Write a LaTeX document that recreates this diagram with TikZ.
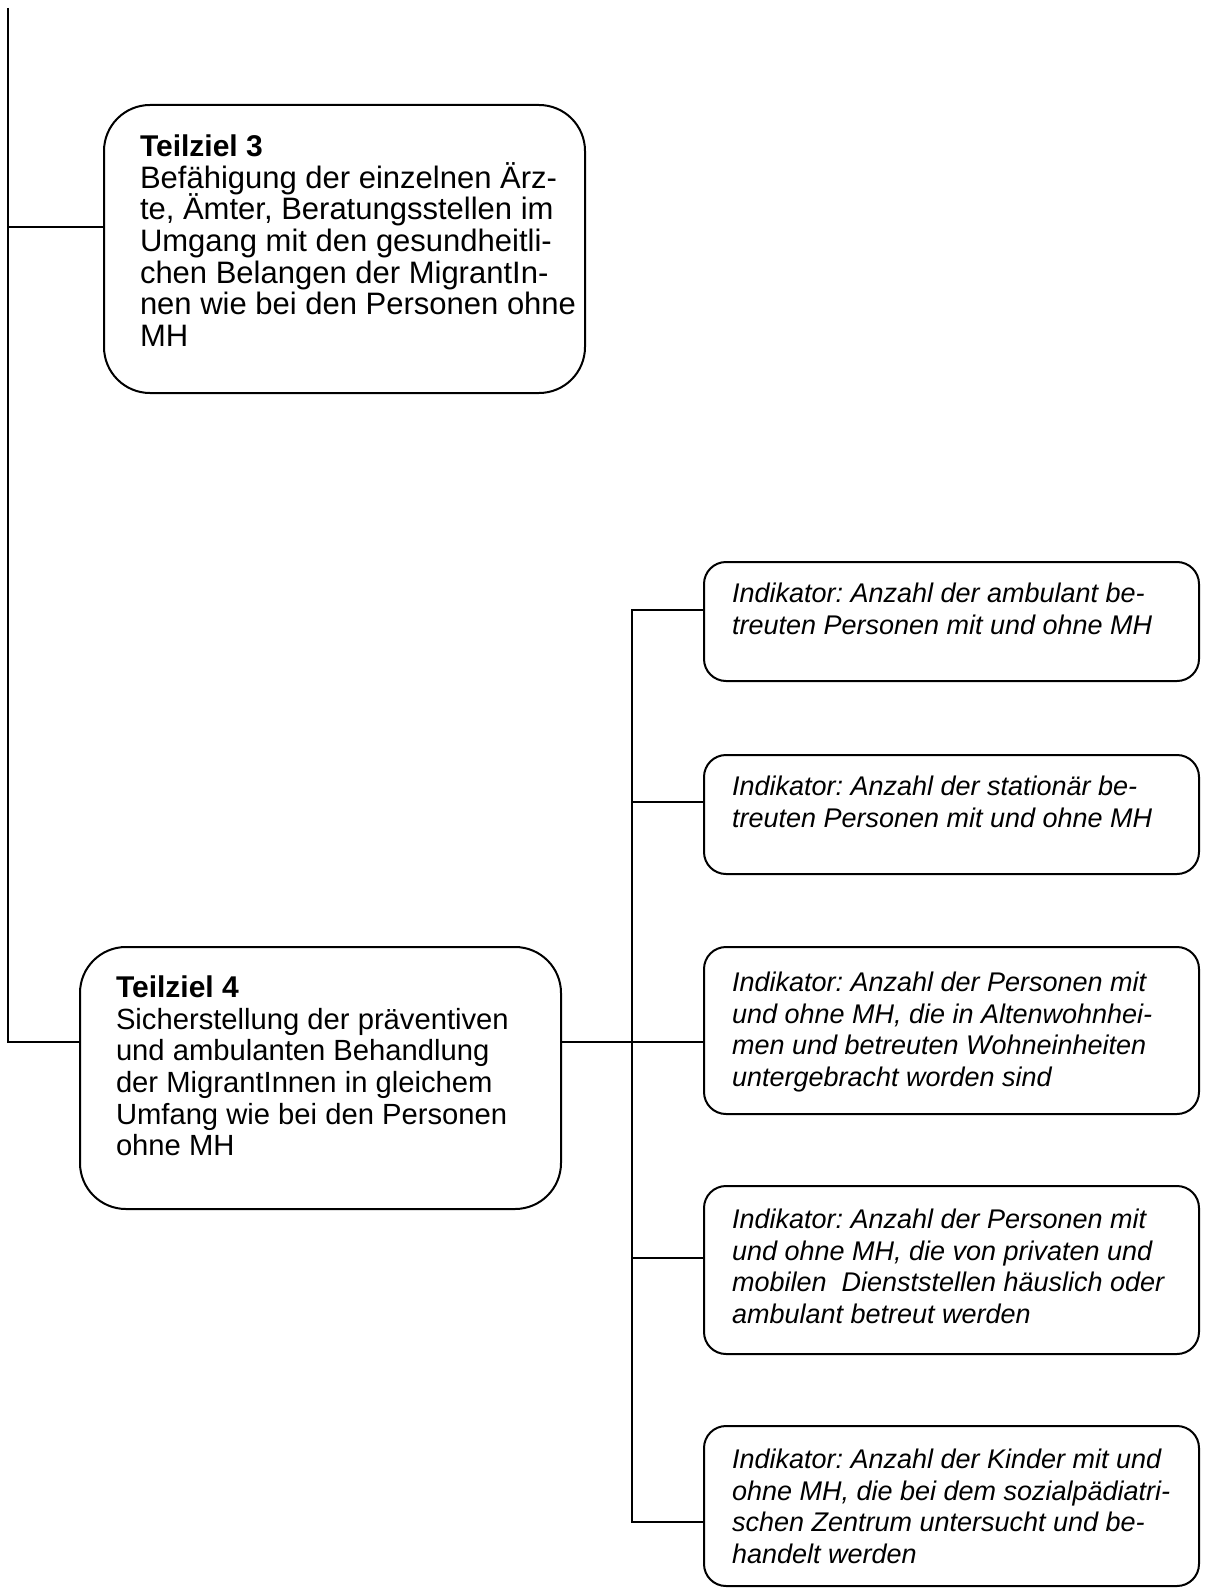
\documentclass[tikz,border=0pt]{standalone}
\usepackage{fontspec}
\setmainfont{Liberation Sans}
\usetikzlibrary{calc}
\begin{document}
\frenchspacing
\lineskiplimit=-1000pt\relax
\begin{tikzpicture}[x=0.5pt,y=-0.5pt,
  line width=1pt,
  goalbox/.style={draw=black, line width=1pt, rounded corners=23pt, outer sep=0pt,
    minimum width=240.5pt, inner sep=0pt},
  indbox/.style={draw=black, line width=1pt, rounded corners=11pt, outer sep=0pt,
    minimum width=247.5pt, inner sep=0pt},
  goaltext/.style={anchor=north west, align=left, inner sep=0pt,
    font=\fontsize{15}{15.8}\selectfont},
  indtext/.style={anchor=north west, align=left, inner sep=0pt,
    font=\fontsize{13.5}{15.7}\selectfont\itshape},
  link/.style={draw=black, line width=1pt}]
\useasboundingbox (0,0) rectangle (1205,1589);

% goal boxes
\node[goalbox, minimum height=144pt] (t3) at (344.5,249) {};
\node[goalbox, minimum height=131pt] (t4) at (320.5,1078) {};

% indicator boxes
\node[indbox, minimum height=59.5pt] (i1) at (951.5,621.5) {};
\node[indbox, minimum height=59.5pt] (i2) at (951.5,814.5) {};
\node[indbox, minimum height=83.5pt] (i3) at (951.5,1030.5) {};
\node[indbox, minimum height=84pt]   (i4) at (951.5,1270) {};
\node[indbox, minimum height=80pt]   (i5) at (951.5,1506) {};

% texts
\node[goaltext] (t3txt) at ($(t3.north west)+(35,28.6)$) {\strut\textbf{Teilziel 3}\\
  \fontsize{15.5}{15.8}\selectfont Befähigung der einzelnen Ärz-\\
  \fontsize{15.5}{15.8}\selectfont te, Ämter, Beratungsstellen im\\
  \fontsize{15.5}{15.8}\selectfont Umgang mit den gesundheitli-\\
  \fontsize{15.5}{15.8}\selectfont chen Belangen der MigrantIn-\\
  \fontsize{15.5}{15.8}\selectfont nen wie bei den Personen ohne\\
  \fontsize{15.5}{15.8}\selectfont MH};
\node[goaltext] (t4txt) at ($(t4.north west)+(35,27.6)$) {\strut\textbf{Teilziel 4}\\
  \fontsize{14.6}{15.8}\selectfont Sicherstellung der präventiven\\
  \fontsize{14.6}{15.8}\selectfont und ambulanten Behandlung\\
  \fontsize{14.6}{15.8}\selectfont der MigrantInnen in gleichem\\
  \fontsize{14.6}{15.8}\selectfont Umfang wie bei den Personen\\
  \fontsize{14.6}{15.8}\selectfont ohne MH};

\node[indtext] (i1txt) at ($(i1.north west)+(27,18)$) {\strut Indikator: Anzahl der ambulant be-\\
  treuten Personen mit und ohne MH};
\node[indtext] (i2txt) at ($(i2.north west)+(27,18)$) {\strut Indikator: Anzahl der stationär be-\\
  treuten Personen mit und ohne MH};
\node[indtext] (i3txt) at ($(i3.north west)+(27,22)$) {\strut Indikator: Anzahl der Personen mit\\
  und ohne MH, die in Altenwohnhei-\\
  men und betreuten Wohneinheiten\\
  untergebracht worden sind};
\node[indtext] (i4txt) at ($(i4.north west)+(27,20)$) {\strut Indikator: Anzahl der Personen mit\\
  und ohne MH, die von privaten und\\
  mobilen\ \ Dienststellen häuslich oder\\
  ambulant betreut werden};
\node[indtext] (i5txt) at ($(i5.north west)+(27,20)$) {\strut Indikator: Anzahl der Kinder mit und\\
  ohne MH, die bei dem sozialpädiatri-\\
  schen Zentrum untersucht und be-\\
  handelt werden};

% connector junctions
\coordinate (spinetop) at (8,8);
\coordinate (j3) at (8,227);
\coordinate (j4) at (8,1042);
\coordinate (bustop) at (632,610);
\coordinate (b2) at (632,802);
\coordinate (b3) at (632,1042);
\coordinate (b4) at (632,1258);
\coordinate (busbot) at (632,1522);

% left spine
\draw[link] (spinetop) -- (j4) -- (j4 -| t4.west);
\draw[link] (j3) -- (j3 -| t3.west);

% bus on the right
\draw[link] (b3 -| t4.east) -- (b3 -| i3.west);
\draw[link] (bustop -| i1.west) -- (bustop) -- (busbot) -- (busbot -| i5.west);
\draw[link] (b2) -- (b2 -| i2.west);
\draw[link] (b4) -- (b4 -| i4.west);
\end{tikzpicture}
\end{document}
